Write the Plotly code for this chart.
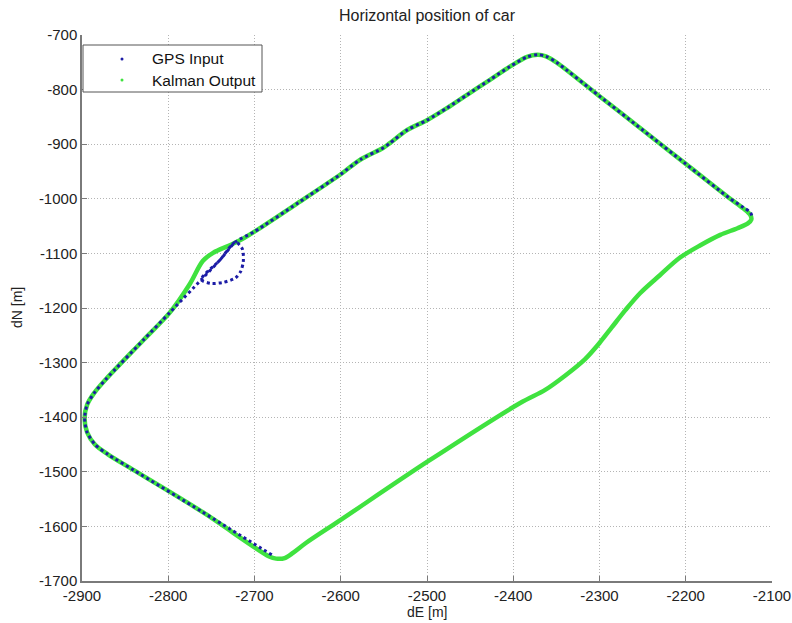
import plotly.graph_objects as go

# ---- data (metres) ----
gps_e = [-2680, -2760, -2840, -2870, -2885, -2894, -2897, -2894, -2886, -2872,
         -2829, -2798, -2761,
         -2740, -2722, -2714, -2713, -2716, -2722, -2736, -2750, -2762,
         -2740, -2722, -2700, -2650, -2600, -2577, -2551, -2543, -2523, -2500, -2477,
         -2454, -2427, -2404, -2384, -2372, -2362, -2350, -2300, -2250, -2200, -2150,
         -2133, -2125, -2123]
gps_n = [-1652, -1574, -1497, -1468, -1450, -1428, -1402, -1377, -1356, -1330,
         -1259, -1208, -1147,
         -1112, -1079, -1092, -1115, -1133, -1145, -1153, -1155, -1148,
         -1112, -1079, -1060, -1008, -955, -928, -907, -898, -874, -856, -834,
         -810, -782, -758, -740, -736, -739, -750, -812, -874, -936, -998,
         -1016, -1025, -1033]

kal_e = [-2683, -2760, -2840, -2870, -2885, -2894, -2897, -2894, -2886, -2872,
         -2829, -2798, -2775, -2760, -2748, -2730,
         -2718, -2700, -2650, -2600, -2577, -2551, -2543, -2523, -2500, -2477, -2454,
         -2427, -2404, -2384, -2372, -2362, -2350, -2300, -2250, -2200, -2150, -2133,
         -2125, -2124, -2128, -2140, -2160, -2183, -2207, -2230, -2253, -2270, -2286,
         -2300, -2317, -2340, -2363, -2392, -2500, -2600, -2640, -2655, -2665, -2675,
         -2683]
kal_n = [-1655, -1574, -1497, -1468, -1450, -1428, -1402, -1377, -1356, -1330,
         -1259, -1208, -1156, -1114, -1099, -1086,
         -1077, -1060, -1008, -955, -928, -907, -898, -874, -856, -834, -810,
         -782, -758, -740, -736, -739, -750, -812, -874, -936, -998, -1018,
         -1030, -1038, -1045, -1054, -1066, -1085, -1108, -1140, -1173, -1204, -1236,
         -1264, -1294, -1324, -1350, -1374, -1482, -1588, -1630, -1648, -1658, -1659,
         -1655]

x_ticks = [-2900, -2800, -2700, -2600, -2500, -2400, -2300, -2200, -2100]
y_ticks = [-1700, -1600, -1500, -1400, -1300, -1200, -1100, -1000, -900, -800, -700]
legend_names = ["GPS Input", "Kalman Output"]

GREEN = "#3fe23f"
BLUE = "#1c1ca6"
FONT = "Liberation Sans, Arial, sans-serif"
TXT = "#222222"

W, H = 792, 623
ML, MR, MT, MB = 82, 20, 35, 42
PW, PH = W - ML - MR, H - MT - MB


def px(xp):
    return (xp - ML) / PW


def py(yp):
    return (H - MB - yp) / PH


fig = go.Figure()
fig.add_trace(go.Scatter(x=kal_e, y=kal_n, mode="lines", showlegend=False,
                         line=dict(color=GREEN, width=4.5, shape="spline", smoothing=0.9),
                         hoverinfo="skip"))
fig.add_trace(go.Scatter(x=gps_e, y=gps_n, mode="lines", showlegend=False,
                         line=dict(color=BLUE, width=3, dash="3px,3px", shape="spline", smoothing=0.7),
                         hoverinfo="skip"))

axis_common = dict(
    showgrid=True, gridcolor="#b4b4b4", griddash="1px,2px", gridwidth=1,
    zeroline=False, showline=True, linecolor="#7a7a7a", linewidth=1.5,
    ticks="inside", ticklen=5, tickcolor="#7a7a7a", automargin=False,
    tickfont=dict(family=FONT, size=15, color=TXT),
)

# legend box drawn like the MATLAB one
shapes = [dict(type="rect", xref="paper", yref="paper",
               x0=px(83), x1=px(262), y0=py(92), y1=py(45),
               fillcolor="white", line=dict(color="#555555", width=1), layer="above")]
annotations = []
for name, col, yy in zip(legend_names, [BLUE, GREEN], [59, 80]):
    shapes.append(dict(type="circle", xref="paper", yref="paper",
                       x0=px(120.5), x1=px(123.5), y0=py(yy + 1.5), y1=py(yy - 1.5),
                       fillcolor=col, line=dict(width=0), layer="above"))
    annotations.append(dict(text=name, xref="paper", yref="paper", x=px(150), y=py(yy),
                            xanchor="left", yanchor="middle", showarrow=False,
                            font=dict(family=FONT, size=15.5, color="#111111")))

# axis titles
annotations.append(dict(text="dE [m]", xref="paper", yref="paper", x=px(427), y=py(612),
                        xanchor="center", yanchor="middle", showarrow=False,
                        font=dict(family=FONT, size=14, color=TXT)))
annotations.append(dict(text="dN [m]", xref="paper", yref="paper", x=px(17), y=py(308),
                        xanchor="center", yanchor="middle", showarrow=False, textangle=-90,
                        font=dict(family=FONT, size=14, color=TXT)))

fig.update_layout(
    width=W, height=H,
    margin=dict(l=ML, r=MR, t=MT, b=MB, autoexpand=False),
    paper_bgcolor="white", plot_bgcolor="white",
    title=dict(text="Horizontal position of car", x=px(427), xanchor="center",
               xref="paper", y=1 - 15 / H, yanchor="middle",
               font=dict(family=FONT, size=16, color=TXT)),
    xaxis=dict(range=[-2900, -2100], tickvals=x_ticks, ticktext=[str(v) for v in x_ticks],
               **axis_common),
    yaxis=dict(range=[-1700, -700], tickvals=y_ticks, ticktext=[str(v) for v in y_ticks],
               **axis_common),
    shapes=shapes,
    annotations=annotations,
    showlegend=False,
)

fig.write_html("out.html", config={"displayModeBar": False},
               post_script="document.body.style.margin='0';")
